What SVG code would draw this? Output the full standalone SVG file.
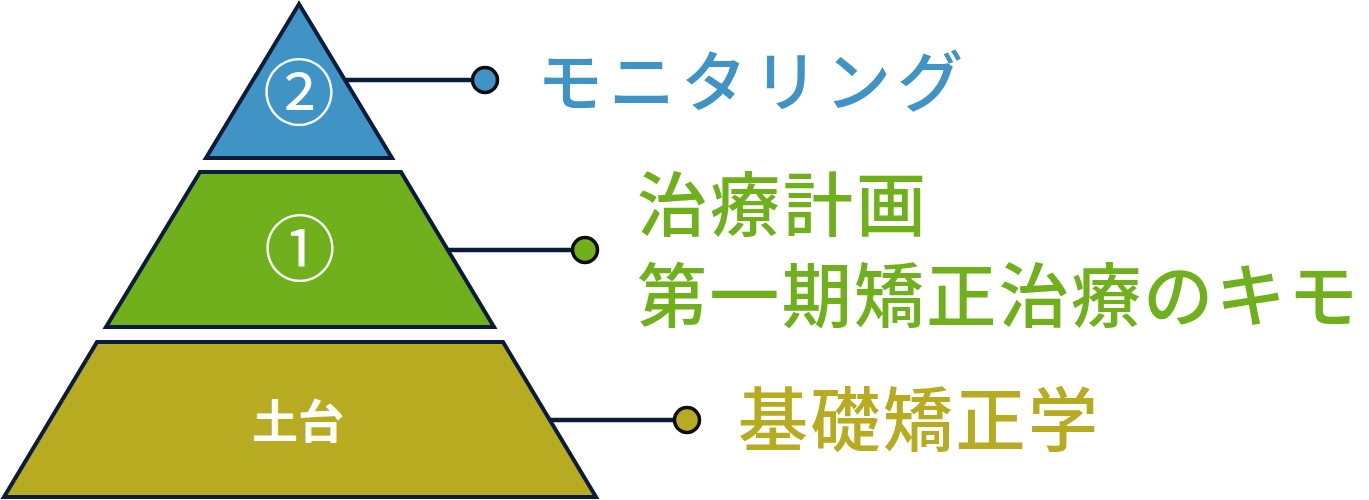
<svg xmlns="http://www.w3.org/2000/svg" width="1369" height="500" viewBox="0 0 1369 500">
<style>
.tier{stroke:#0b1b3b;stroke-width:4;stroke-linejoin:miter}
.conn{stroke:#0b1b3b;stroke-width:4.5;fill:none}
.dot{stroke:#0d0d0d;stroke-width:3.5}
.num{font-family:"Noto Sans CJK JP",sans-serif;font-size:72px;fill:#ffffff;text-anchor:middle}
.lbl{font-family:"Noto Sans CJK JP",sans-serif;font-weight:500}
</style>
<rect width="1369" height="500" fill="#ffffff"/>
<g id="connectors">
<line class="conn" x1="346" y1="80" x2="473" y2="80"/>
<line class="conn" x1="449" y1="250" x2="573" y2="250"/>
<line class="conn" x1="549" y1="420" x2="674" y2="420"/>
</g>
<g id="tier2">
<polygon class="tier" points="299,4 392,158 206,158" fill="#3f93c5"/>
<text class="num" x="299" y="119">②</text>
</g>
<g id="tier1">
<polygon class="tier" points="200,172 401,172 494,327 106,327" fill="#70b01d"/>
<text class="num" x="300" y="275">①</text>
</g>
<g id="tier0">
<polygon class="tier" points="97,342 503,342 596,497 4,497" fill="#b7ab21"/>
<text x="298" y="438" font-family="Noto Sans CJK JP,sans-serif" font-weight="700" font-size="46" fill="#ffffff" text-anchor="middle">土台</text>
</g>
<g id="label2">
<circle class="dot" cx="485" cy="80" r="12.5" fill="#3f93c5"/>
<text class="lbl" x="537" y="106" font-size="66" fill="#3f93c5" textLength="426" lengthAdjust="spacing">モニタリング</text>
</g>
<g id="label1">
<circle class="dot" cx="585" cy="250" r="12.5" fill="#70b01d"/>
<text class="lbl" x="637" y="231" font-size="70" fill="#70b01d" textLength="289" lengthAdjust="spacing">治療計画</text>
<text class="lbl" x="637" y="322" font-size="70" fill="#70b01d" textLength="721" lengthAdjust="spacing">第一期矯正治療のキモ</text>
</g>
<g id="label0">
<circle class="dot" cx="687" cy="420" r="12.5" fill="#b7ab21"/>
<text class="lbl" x="738" y="446" font-size="70" fill="#b7ab21" textLength="360" lengthAdjust="spacing">基礎矯正学</text>
</g>
</svg>
